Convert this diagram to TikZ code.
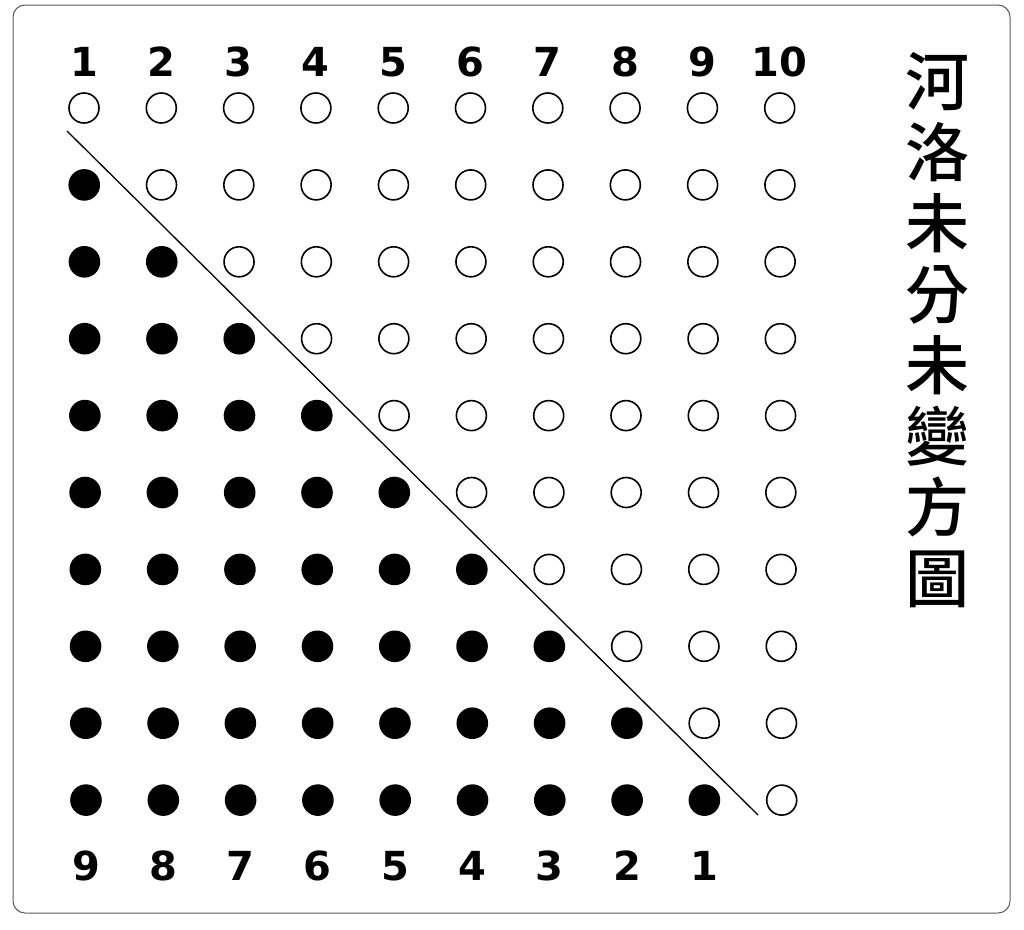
\documentclass[tikz,border=0pt]{standalone}
\usepackage{fontspec}
\setmainfont{DejaVu Sans}
\newfontfamily\cjk{Noto Sans CJK TC Medium}

\begin{document}
\begin{tikzpicture}[x=1pt,y=-1pt,
        dot/.style={circle,inner sep=0pt,minimum size=30pt,line width=1.6pt},
        yin/.style={dot,fill=black,draw=black},
        yang/.style={dot,draw=black},
        num/.style={font=\bfseries\fontsize{40}{40}\selectfont}]
    \useasboundingbox (0,0) rectangle (1024,929);
    \draw[gray!70!black,line width=1pt,rounded corners=12pt] (13,5) rectangle (1010,913);
    \foreach \c in {1,...,10} {
        \node[num] (top-\c) at ({84+77.3*(\c-1)},62) {\c};
        \foreach \r in {1,...,10} {
            \ifnum\c<\r
                \node[yin] (p-\r-\c) at ({84+2*(\r-1)/9+77.3*(\c-1)},{108+76.9*(\r-1)}) {};
            \else
                \node[yang] (p-\r-\c) at ({84+2*(\r-1)/9+77.3*(\c-1)},{108+76.9*(\r-1)}) {};
            \fi
        }
    }
    \foreach \c [evaluate=\c as \n using int(10-\c)] in {1,...,9}
        \node[num] (bot-\c) at ({86+77.3*(\c-1)},866) {\n};
    \coordinate (diag-a) at (67,131);
    \coordinate (diag-b) at (758,815);
    \draw[line width=1.3pt] (diag-a) -- (diag-b);
    \node[font=\cjk\fontsize{64}{71}\selectfont,align=center] (title) at (937,330)
        {河\\洛\\未\\分\\未\\變\\方\\圖};
\end{tikzpicture}
\end{document}
